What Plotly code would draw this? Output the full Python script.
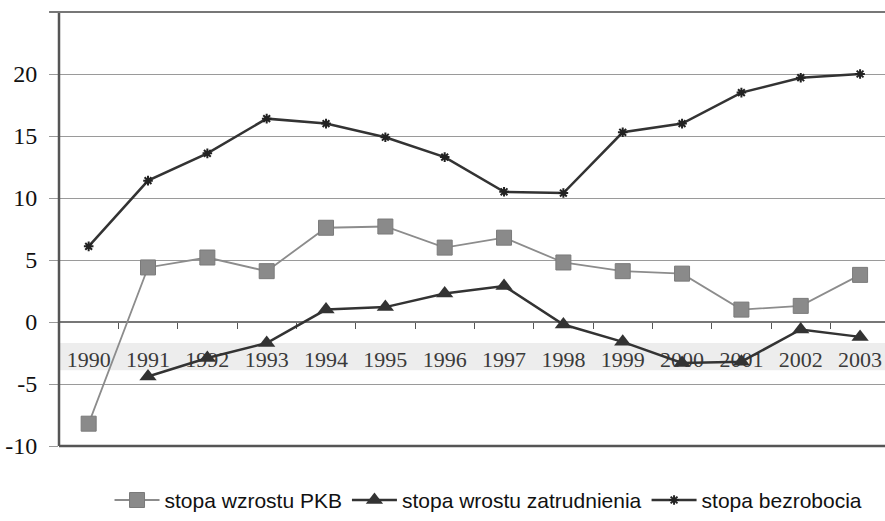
import plotly.graph_objects as go

years = ["1990", "1991", "1992", "1993", "1994", "1995", "1996", "1997",
         "1998", "1999", "2000", "2001", "2002", "2003"]
pkb = [-8.2, 4.4, 5.2, 4.1, 7.6, 7.7, 6.0, 6.8, 4.8, 4.1, 3.9, 1.0, 1.3, 3.8]
zatrudnienie = [None, -4.4, -2.9, -1.7, 1.0, 1.2, 2.3, 2.9, -0.2, -1.6, -3.3, -3.2, -0.6, -1.2]
bezrobocie = [6.1, 11.4, 13.6, 16.4, 16.0, 14.9, 13.3, 10.5, 10.4, 15.3, 16.0, 18.5, 19.7, 20.0]
y_ticks = [-10, -5, 0, 5, 10, 15, 20]

fig = go.Figure()
fig.add_trace(go.Scatter(
    x=years, y=pkb, name="stopa wzrostu PKB", mode="lines+markers",
    line=dict(color="#8c8c8c", width=1.8),
    marker=dict(symbol="square", size=15, color="#8a8a8a", line=dict(color="#7a7a7a", width=1)),
))
fig.add_trace(go.Scatter(
    x=years, y=zatrudnienie, name="stopa wrostu zatrudnienia", mode="lines+markers",
    line=dict(color="#333333", width=2.5),
    marker=dict(symbol="triangle-up", size=15, color="#333333"),
))
fig.add_trace(go.Scatter(
    x=years, y=bezrobocie, name="stopa bezrobocia", mode="lines+markers",
    line=dict(color="#333333", width=2.5),
    marker=dict(symbol="asterisk-open", size=8, color="#222222", line=dict(color="#222222", width=2)),
))

fig.update_layout(
    width=885, height=521,
    margin=dict(l=59, r=0, t=12, b=75),
    paper_bgcolor="white", plot_bgcolor="white",
    showlegend=True,
    legend=dict(orientation="h", x=0.52, xanchor="center", y=-0.078, yanchor="top",
                font=dict(family="Liberation Sans", size=21, color="#111111"),
                itemwidth=45, traceorder="normal"),
    xaxis=dict(
        type="category", range=[-0.5, 13.42],
        anchor="free", position=(0 - (-10)) / 35,
        showline=True, linecolor="#777777", linewidth=1.5,
        ticks="outside", tickson="boundaries", ticklen=6, tickcolor="#555555",
        showgrid=False, layer="below traces",
        tickfont=dict(family="Liberation Serif", size=22, color="#3a3a3a"),
        ticklabelstandoff=18,
    ),
    yaxis=dict(
        range=[-10, 25], tickvals=y_ticks, ticktext=[str(v) for v in y_ticks],
        showgrid=True, gridcolor="#9a9a9a", gridwidth=1,
        zeroline=False, showline=False,
        ticks="outside", ticklen=9, tickcolor="#9a9a9a",
        tickfont=dict(family="Liberation Serif", size=24, color="#111111"),
        ticklabelstandoff=7,
    ),
    shapes=[
        dict(type="rect", xref="paper", yref="y", x0=0, x1=1, y0=-3.9, y1=-1.7,
             fillcolor="#ededed", line=dict(width=0), layer="below"),
        dict(type="line", xref="paper", yref="paper", x0=0, x1=0, y0=0, y1=1,
             line=dict(color="#555555", width=2.5)),
        dict(type="line", xref="paper", yref="paper", x0=0, x1=1, y0=0, y1=0,
             line=dict(color="#555555", width=2.5)),
        dict(type="line", xref="paper", yref="paper", x0=-0.012, x1=1, y0=1, y1=1,
             line=dict(color="#777777", width=2)),
    ],
)

fig.write_html(
    "out.html",
    config={"displayModeBar": False},
    post_script="document.body.style.margin='0';document.body.style.overflow='hidden';",
)
